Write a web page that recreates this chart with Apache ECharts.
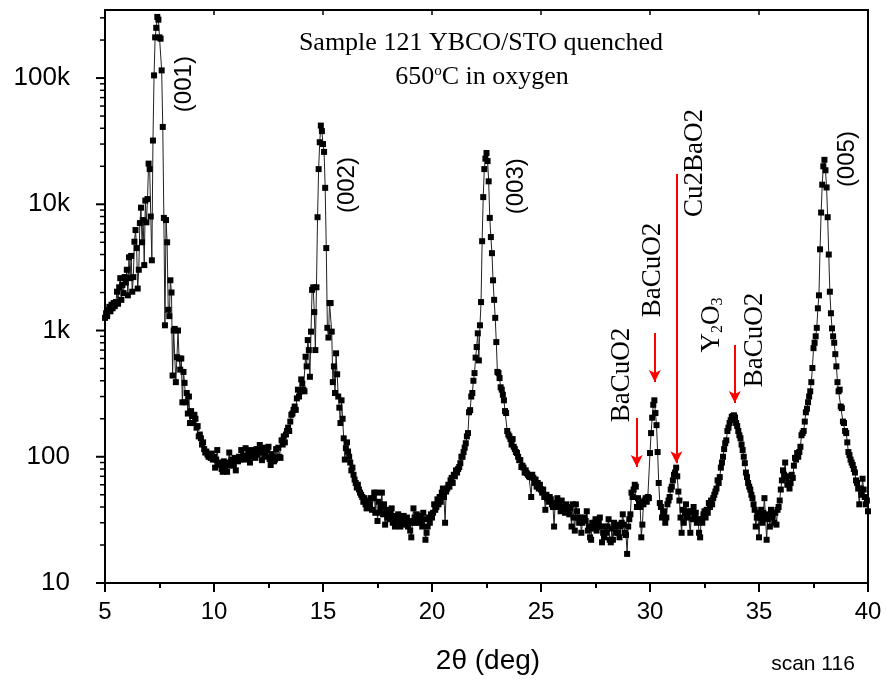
<!DOCTYPE html>
<html><head><meta charset="utf-8">
<script src="https://cdn.jsdelivr.net/npm/echarts@6/dist/echarts.min.js"></script>
<style>html,body{margin:0;padding:0;background:#fff}#c{width:886px;height:685px}</style>
</head><body><div id="c"></div><script>
// scan parameters (2theta start and step, degrees)
const scanStart = 5, scanStep = 0.05;
// counts, 0.05 deg steps
const counts_05_10 = [
1260,1370,1300,1450,1540,1420,1600,1500,1650,1560,
1680,2030,1630,2200,2600,1750,2300,1980,2650,2400,
3030,1900,3800,2600,3900,2030,2650,5050,6250,4500,
2150,3030,7100,9400,5000,7500,3300,10700,7200,11000,
21000,19000,8000,3600,32000,105000,210000,250000,305000,290000,
210000,205000,115000,41000,7800,1100,7500,5000,1460,1300,
2500,2000,440,1000,1030,390,615,1000,600,490,
600,270,470,385,270,320,220,300,185,230,
210,185,215,200,170,175,145,150,140,125,
130,115,108,110,104,100,103,98,106,95];
const counts_10_15 = [
100,82,95,113,88,90,86,80,76,92,
84,88,76,90,108,85,92,95,86,98,
78,96,92,100,95,113,98,102,95,117,
100,96,108,90,113,100,105,110,98,115,
104,112,124,108,94,110,118,104,100,113,
120,96,86,105,100,92,95,115,98,118,
100,98,135,125,145,130,150,160,170,160,
190,215,220,235,250,235,290,340,300,330,
410,380,340,330,620,520,840,700,430,980,
2100,2200,1400,700,2200,7900,19000,31000,42000,38000];
const counts_15_20 = [
30000,26000,13500,4500,1050,880,1650,1650,980,390,
520,320,660,450,300,245,185,280,200,140,
95,117,130,110,100,90,78,82,72,66,
62,57,60,55,52,50,48,44,47,42,
39,45,40,42,47,38,47,52,36,52,
31,44,36,40,52,35,42,29,38,33,
35,32,36,39,30,34,28,33,31,35,
33,28,32,30,34,30,29,33,28,31,
26,23,30,39,33,30,35,32,30,34,
31,28,36,32,22,25,28,33,30,35];
const counts_20_25 = [
33,36,42,38,40,46,42,48,44,52,
56,48,30,53,56,60,58,65,68,62,
72,70,78,75,80,83,89,100,100,109,
118,128,145,154,225,234,300,320,400,460,
610,740,950,580,1100,1680,5100,11400,19000,23000,
25500,22000,15200,7800,5500,4100,2500,1750,1260,810,
470,460,420,355,340,310,280,230,222,160,
150,145,138,125,138,120,115,109,107,100,
94,94,83,85,82,75,78,74,72,70,
69,48,72,68,62,66,58,62,56,60];
const counts_25_30 = [
55,52,55,48,38,50,47,44,48,46,
42,40,28,43,42,47,40,43,37,45,
38,40,36,42,38,40,35,39,28,42,
33,26,42,37,33,30,33,25,30,32,
33,31,37,26,28,23,22,30,27,30,
32,26,28,30,33,28,21,25,23,28,
25,28,32,22,21,27,22,30,28,25,
29,25,23,28,30,35,29,25,24,17,
28,32,35,52,48,55,60,58,40,47,
44,40,23,29,42,45,47,44,48,47];
const counts_30_35 = [
107,154,204,258,280,222,178,109,62,43,
40,33,36,37,30,33,42,45,48,55,
58,65,72,75,82,70,53,45,33,25,
38,30,36,42,33,36,37,25,37,32,
40,35,36,30,32,25,23,32,30,35,
37,33,38,36,43,40,45,42,47,50,
53,56,65,62,69,82,90,100,115,128,
135,160,170,185,195,207,210,213,205,185,
175,160,148,140,125,113,100,89,75,69,
62,58,55,50,47,42,38,28,33,36];
const counts_35_40 = [
23,33,38,30,36,47,33,22,32,35,
28,38,33,36,30,36,29,38,40,45,
55,65,78,72,90,67,60,70,56,62,
72,68,85,98,95,107,100,109,120,148,
154,160,190,225,240,270,300,330,390,505,
725,800,900,1050,1500,1900,4400,8600,14300,20000,
22500,18600,13600,7900,4000,2030,1370,1040,900,800,
650,520,390,330,340,250,243,190,185,160,
154,130,109,103,95,90,86,80,75,65,
62,56,42,56,50,67,55,48,42,45,
37];

// axis ticks
const xTicks = [5,10,15,20,25,30,35,40];
const yMajorTicks = [10,100,1000,10000,100000];
const yMinorTicks = [20,30,40,50,60,70,80,90,200,300,400,500,600,700,800,900,
  2000,3000,4000,5000,6000,7000,8000,9000,20000,30000,40000,50000,60000,70000,80000,90000,200000,300000];
const yLabelText = {10:'10',100:'100',1000:'1k',10000:'10k',100000:'100k'};

// peak labels: [2theta, counts anchor, text]
const peakLabelX = [8.63, 16.12, 23.88, 39.04];
const peakLabelY = [89500, 14200, 13900, 22800];
const peakLabelText = ['(001)','(002)','(003)','(005)'];
// phase labels
const phaseLabelX = [28.70, 30.13, 32.06, 32.84, 34.81];
const phaseLabelY = [445, 3010, 21200, 1107, 841];
const phaseLabelText = ['BaCuO2','BaCuO2','Cu2BaO2','Y{sub|2}O{sub|3}','BaCuO2'];
// red arrows
const arrowX = [29.39, 30.22, 31.21, 33.89];
const arrowFrom = [203, 955, 17380, 767];
const arrowTo = [83, 391, 89, 267];

const allCounts = [].concat(counts_05_10, counts_10_15, counts_15_20, counts_20_25, counts_25_30, counts_30_35, counts_35_40);
const scanData = allCounts.map((v, i) => [+(scanStart + i * scanStep).toFixed(2), v]);

const SANS = "'Liberation Sans', Arial, sans-serif";
const SERIF = "'Liberation Serif', 'Times New Roman', serif";

const chart = echarts.init(document.getElementById('c'), null, {renderer: 'canvas'});

const labelData = [];
peakLabelX.forEach((x, i) => labelData.push({value: [x, peakLabelY[i]], label: {formatter: peakLabelText[i], fontFamily: SANS, fontSize: 24}}));
phaseLabelX.forEach((x, i) => labelData.push({value: [x, phaseLabelY[i]], label: {formatter: phaseLabelText[i], fontFamily: SERIF, fontSize: 27}}));

chart.setOption({
  animation: false,
  backgroundColor: '#fff',
  grid: {left: 105, right: 18, top: 10, bottom: 102, show: true, borderColor: '#000', borderWidth: 2, backgroundColor: 'transparent'},
  graphic: [
    {type: 'text', x: 481, y: 30, style: {text: 'Sample 121 YBCO/STO quenched', font: "26px 'Liberation Serif'", fill: '#000', align: 'center'}},
    {type: 'text', x: 482, y: 64, style: {text: '650{s|o}C in oxygen', font: "26px 'Liberation Serif'", fill: '#000', align: 'center',
      rich: {s: {font: "15px 'Liberation Serif'", verticalAlign: 'top', fill: '#000'}}}},
    {type: 'text', x: 488, y: 647, style: {text: '2θ (deg)', font: "28px 'Liberation Sans'", fill: '#000', align: 'center'}},
    {type: 'text', x: 813, y: 654, style: {text: 'scan 116', font: "21px 'Liberation Sans'", fill: '#000', align: 'center'}}
  ],
  xAxis: [{
    type: 'value', min: 5, max: 40, interval: 5, position: 'bottom',
    axisLine: {show: true, onZero: false, lineStyle: {color: '#000', width: 2}},
    axisTick: {show: true, inside: false, length: 9, lineStyle: {color: '#000', width: 2}},
    minorTick: {show: true, splitNumber: 2, length: 5, lineStyle: {color: '#000', width: 2}},
    splitLine: {show: false},
    axisLabel: {color: '#000', fontFamily: SANS, fontSize: 24, margin: 17}
  }, {
    type: 'value', min: 5, max: 40, interval: 5, position: 'top',
    axisLine: {show: true, onZero: false, lineStyle: {color: '#000', width: 2}},
    axisTick: {show: true, inside: true, length: 5, lineStyle: {color: '#000', width: 1.5}},
    minorTick: {show: false},
    splitLine: {show: false},
    axisLabel: {show: false}
  }],
  yAxis: [{
    type: 'log', logBase: 10, min: 10, max: 346000,
    axisLine: {show: true, onZero: false, lineStyle: {color: '#000', width: 2}},
    axisTick: {show: false},
    splitLine: {show: false},
    axisLabel: {color: '#000', fontFamily: SANS, fontSize: 26, margin: 35, showMaxLabel: false,
      formatter: function (v) {
        const l = Math.log10(v);
        if (Math.abs(l - Math.round(l)) > 1e-6) return '';
        return yLabelText[Math.pow(10, Math.round(l))] || '';
      }}
  }],
  series: [
    {
      name: 'yMajor', type: 'scatter', clip: false, silent: true, z: 5,
      symbol: 'rect', symbolSize: [9, 2], symbolOffset: [-4.5, 0],
      itemStyle: {color: '#000', opacity: 1},
      data: yMajorTicks.map(v => [scanStart, v])
    },
    {
      name: 'yMinor', type: 'scatter', clip: false, silent: true, z: 5,
      symbol: 'rect', symbolSize: [5, 1.5], symbolOffset: [-2.5, 0],
      itemStyle: {color: '#000', opacity: 1},
      data: yMinorTicks.map(v => [scanStart, v])
    },
    {
      name: 'scan', type: 'line', data: scanData, showAllSymbol: true,
      symbol: 'rect', symbolSize: 6, clip: true,
      itemStyle: {color: '#000', opacity: 1},
      lineStyle: {color: '#222', width: 1},
      z: 3,
      markLine: {
        silent: true, symbol: ['none', 'arrow'], symbolSize: [9, 12],
        lineStyle: {color: '#ff0000', width: 2, type: 'solid'},
        label: {show: false},
        data: arrowX.map((x, i) => [{coord: [x, arrowFrom[i]]}, {coord: [x, arrowTo[i]]}])
      }
    },
    {
      name: 'labels', type: 'scatter', silent: true, symbolSize: 0, z: 6,
      itemStyle: {opacity: 1, color: '#000'},
      data: labelData,
      label: {show: true, position: 'inside', rotate: 90, color: '#000', opacity: 1,
        rich: {sub: {fontFamily: SERIF, fontSize: 16, verticalAlign: 'bottom', color: '#000'}}}
    }
  ]
});
</script></body></html>
